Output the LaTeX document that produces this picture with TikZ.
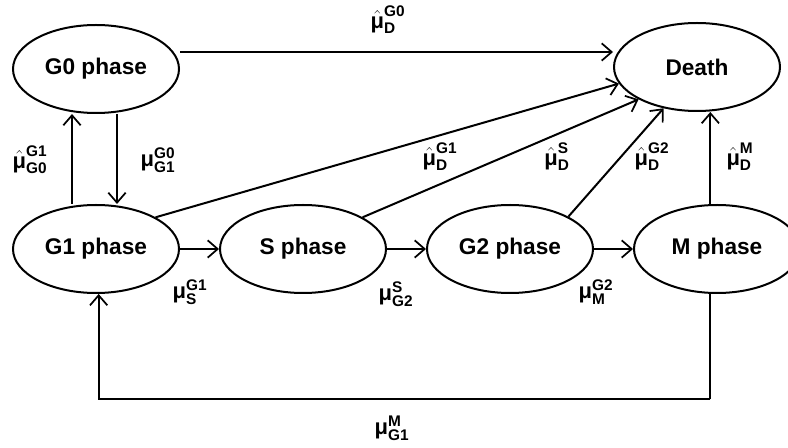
\documentclass[tikz,border=0pt]{standalone}
\usepackage{amsmath}
\usepackage{fontspec}
\setmainfont{Liberation Sans}
\usepackage{tikz}
\usetikzlibrary{shapes.geometric, arrows.meta, positioning}
\tikzset{
  phasenode/.style={ellipse, draw=black, line width=1.5pt, inner sep=0pt,
                    minimum width=124.5pt, minimum height=66pt,
                    font=\fontsize{17}{20}\selectfont\bfseries},
  arrow/.style={-{Straight Barb[length=7.5pt,width=13pt,line width=1.3pt]},
                line width=1.5pt, color=black},
  plainline/.style={line width=1.5pt, color=black},
  ratelabel/.style={inner sep=1pt, font=\fontsize{16.5}{19}\selectfont\bfseries}
}
\newcommand{\murate}[2]{$\text{μ}^{\text{#1}}_{\text{#2}}$}
\newcommand{\muhat}[2]{$\hat{\text{μ}}^{\text{#1}}_{\text{#2}}$}

\begin{document}
\begin{tikzpicture}[x=0.75pt, y=-0.75pt]
  \useasboundingbox (0,0) rectangle (788,448);

  % phases
  \node[phasenode] (g0) at (96,69) {G0 phase};
  \node[phasenode] (death) at (697,67) {Death};
  \node[phasenode, below=67.5pt of g0] (g1) {G1 phase};
  \node[phasenode, right=29.25pt of g1] (s) {S phase};
  \node[phasenode, right=29.25pt of s] (g2) {G2 phase};
  \node[phasenode, right=29.25pt of g2] (m) {M phase};

  % transitions
  \draw[arrow] ([yshift=12.75pt]g0.east) -- ([yshift=12.75pt]g0.east -| death.west);
  \draw[arrow] ([xshift=-18pt]g1.north) -- ([xshift=-18pt]g1.north |- g0.south);
  \draw[arrow] ([xshift=15.75pt]g0.south) -- ([xshift=15.75pt]g0.south |- g1.north);
  \draw[arrow] (g1.28) -- (death.192);
  \draw[arrow] (s.28) -- (death.209);
  \draw[arrow] (g2.29) -- (death.231);
  \draw[arrow] ([xshift=-5pt]m.north) -- ([xshift=-5pt]m.north |- death.south);
  \draw[arrow] (g1) -- (s);
  \draw[arrow] (s) -- (g2);
  \draw[arrow] (g2) -- (m);
  \coordinate (loopm) at ([xshift=-5pt]m.south);
  \coordinate (loopg1) at ([xshift=2pt]g1.south);
  \draw[plainline] (loopm) -- ++(0,105) coordinate (loopbr);
  \draw[arrow] (loopbr) -| (loopg1);

  % rates
  \node[ratelabel] (rg0d) at (388,20) {\muhat{G0}{D}};
  \node[ratelabel] (rg1g0) at (30,160) {\muhat{G1}{G0}};
  \node[ratelabel] (rg0g1) at (158,160) {\murate{G0}{G1}};
  \node[ratelabel] (rg1d) at (440,157) {\muhat{G1}{D}};
  \node[ratelabel] (rsd) at (557,157) {\muhat{S}{D}};
  \node[ratelabel] (rg2d) at (652,157) {\muhat{G2}{D}};
  \node[ratelabel] (rmd) at (740,157) {\muhat{M}{D}};
  \node[ratelabel] (rg1s) at (190,292) {\murate{G1}{S}};
  \node[ratelabel] (rsg2) at (396,294) {\murate{S}{G2}};
  \node[ratelabel] (rg2m) at (596,292) {\murate{G2}{M}};
  \node[ratelabel] (rmg1) at (392,428) {\murate{M}{G1}};

\end{tikzpicture}
\end{document}
